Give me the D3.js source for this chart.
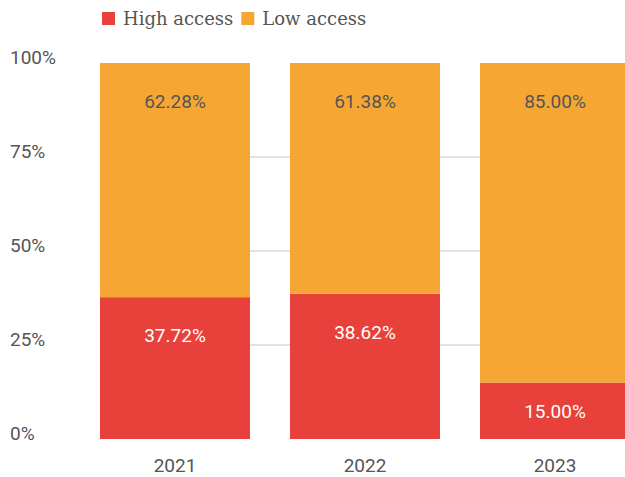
<!DOCTYPE html>
<html>
<head>
<meta charset="utf-8">
<script src="https://cdn.jsdelivr.net/npm/d3@7"></script>
<style>
  html, body { margin: 0; padding: 0; background: #fff; }
  svg { display: block; }
</style>
</head>
<body>
<svg id="chart" width="625" height="477"></svg>
<script>
// Share of respondents by access level, per year (percent)
const years = ["2021", "2022", "2023"];
const highAccess = [37.72, 38.62, 15.00];
const lowAccess = [62.28, 61.38, 85.00];
const yTicks = [0, 25, 50, 75, 100];
const seriesNames = ["High access", "Low access"];
const seriesColors = ["#e8403a", "#f6a733"];

const width = 625, height = 477;
const svg = d3.select("#chart");

const x = d3.scaleBand()
  .domain(years)
  .range([80, 650])
  .paddingInner(40 / 190)
  .paddingOuter(20 / 190);

const y = d3.scaleLinear().domain([0, 100]).range([439, 63]);

const tickFont = "Roboto, 'Noto Sans', sans-serif";
const textGrey = "#555";

// Horizontal gridlines (drawn behind the bars)
svg.append("g")
  .selectAll("line")
  .data(yTicks.filter(t => t > 0 && t < 100))
  .join("line")
  .attr("x1", x(years[0]))
  .attr("x2", width)
  .attr("y1", d => y(d))
  .attr("y2", d => y(d))
  .attr("stroke", "#d8d8d8")
  .attr("stroke-width", 1.5);

// Y axis labels, baseline sitting on the gridline
const yAxis = d3.axisLeft(y).tickValues(yTicks).tickFormat(d => d + "%").tickSize(0);
const yg = svg.append("g").attr("transform", "translate(10,0)").call(yAxis);
yg.select(".domain").remove();
yg.selectAll("text")
  .attr("x", 0)
  .attr("dy", 0)
  .attr("text-anchor", "start")
  .attr("fill", textGrey)
  .style("font-family", tickFont)
  .style("font-size", "19px");

// Stack the two series
const rows = years.map((yr, i) => ({ year: yr, high: highAccess[i], low: lowAccess[i] }));
const stack = d3.stack().keys(["high", "low"]);
const layers = stack(rows);

const layerG = svg.append("g")
  .selectAll("g")
  .data(layers)
  .join("g")
  .attr("fill", (d, i) => seriesColors[i]);

layerG.selectAll("rect")
  .data(d => d)
  .join("rect")
  .attr("x", d => x(d.data.year))
  .attr("width", x.bandwidth())
  .attr("y", d => y(d[1]))
  .attr("height", d => y(d[0]) - y(d[1]));

// Value labels: near the top of each segment, centred when the segment is short
layerG.selectAll("text")
  .data((d, i) => d.map(p => ({ p, i })))
  .join("text")
  .attr("x", d => x(d.p.data.year) + x.bandwidth() / 2)
  .attr("y", d => {
    const top = y(d.p[1]), bottom = y(d.p[0]);
    return Math.min((top + bottom) / 2, top + 38);
  })
  .attr("dy", "0.36em")
  .attr("text-anchor", "middle")
  .attr("fill", d => d.i === 0 ? "#ffffff" : textGrey)
  .style("font-family", tickFont)
  .style("font-size", "19px")
  .text(d => (d.p[1] - d.p[0]).toFixed(2) + "%");

// X axis labels
const xAxis = d3.axisBottom(x).tickSize(0);
const xg = svg.append("g").attr("transform", "translate(0,439)").call(xAxis);
xg.select(".domain").remove();
xg.selectAll("text")
  .attr("y", 33)
  .attr("dy", 0)
  .attr("fill", textGrey)
  .style("font-family", tickFont)
  .style("font-size", "19px");

// Legend
const legend = svg.append("g").attr("transform", "translate(102,12)");
const item = legend.selectAll("g")
  .data(seriesNames)
  .join("g");
item.append("rect")
  .attr("width", 13)
  .attr("height", 13)
  .attr("fill", (d, i) => seriesColors[i]);
item.append("text")
  .attr("x", 21)
  .attr("y", 13)
  .attr("fill", textGrey)
  .style("font-family", "'DejaVu Serif', serif")
  .style("font-size", "18px")
  .text(d => d);
let offset = 0;
item.each(function () {
  d3.select(this).attr("transform", `translate(${offset},0)`);
  offset += this.getBBox().width + 8;
});
</script>
</body>
</html>
